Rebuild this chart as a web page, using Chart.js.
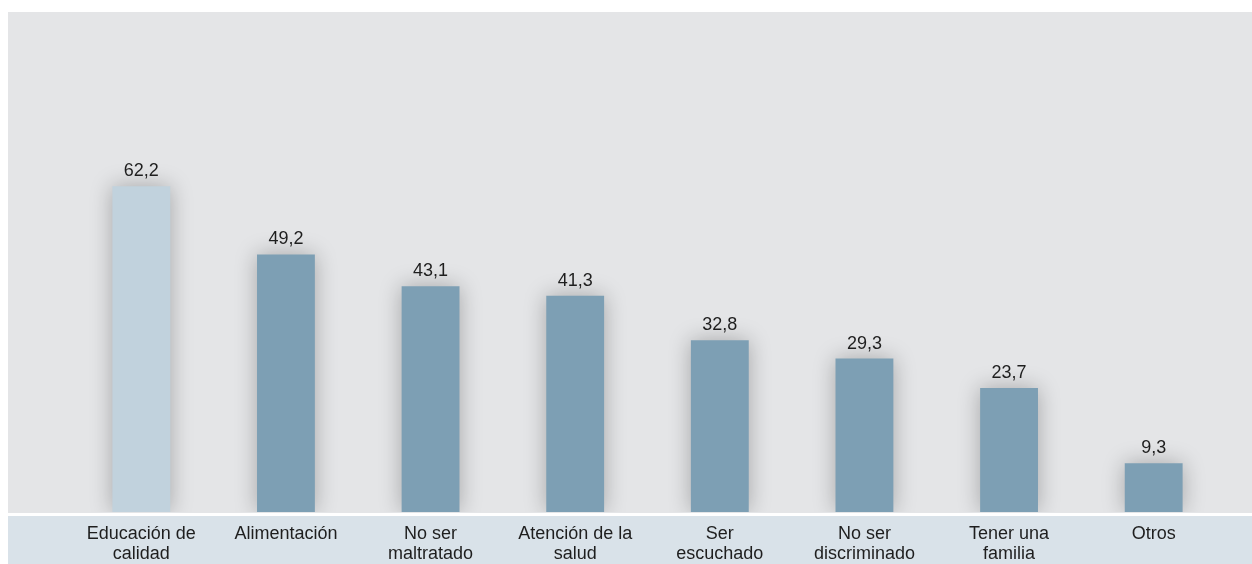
<!DOCTYPE html>
<html>
<head>
<meta charset="utf-8">
<script src="https://cdn.jsdelivr.net/npm/chart.js@4.4.1/dist/chart.umd.min.js"></script>
<style>
    html, body { margin: 0; padding: 0; background: #ffffff; }
    #wrap { width: 1252px; height: 564px; position: relative; }
</style>
</head>
<body>
<div id="wrap"><canvas id="myChart"></canvas></div>
<script>
// datos
var categorias = [
    ['Educación de', 'calidad'],
    'Alimentación',
    ['No ser', 'maltratado'],
    ['Atención de la', 'salud'],
    ['Ser', 'escuchado'],
    ['No ser', 'discriminado'],
    ['Tener una', 'familia'],
    'Otros'
];
var valores = [62.2, 49.2, 43.1, 41.3, 32.8, 29.3, 23.7, 9.3];
var coloresBarra = ['#c1d2dd', '#7d9fb4', '#7d9fb4', '#7d9fb4', '#7d9fb4', '#7d9fb4', '#7d9fb4', '#7d9fb4'];

// fondo gris + banda azul de las etiquetas
var fondo = {
    id: 'fondo',
    beforeDraw: function (chart) {
        const ctx = chart.ctx;
        ctx.save();
        ctx.fillStyle = '#ffffff';
        ctx.fillRect(0, 0, chart.width, chart.height);
        ctx.fillStyle = '#e4e5e7';
        ctx.fillRect(8, 12, chart.width - 8, 501);
        ctx.fillStyle = '#d9e2e9';
        ctx.fillRect(8, 516, chart.width - 8, chart.height - 516);
        ctx.restore();
    }
};

// sombra suave de las barras
var sombra = {
    id: 'sombra',
    beforeDatasetsDraw: function (chart) {
        const ctx = chart.ctx;
        ctx.save();
        ctx.shadowColor = 'rgba(0,0,0,0.28)';
        ctx.shadowBlur = 22;
        ctx.shadowOffsetX = 0;
        ctx.shadowOffsetY = 0;
    },
    afterDatasetsDraw: function (chart) {
        chart.ctx.restore();
    }
};

// valores encima de cada barra
var etiquetas = {
    id: 'etiquetas',
    afterDatasetsDraw: function (chart) {
        const ctx = chart.ctx;
        const meta = chart.getDatasetMeta(0);
        ctx.save();
        ctx.font = '18px "Liberation Sans", Arial, sans-serif';
        ctx.fillStyle = '#1e1e1e';
        ctx.textAlign = 'center';
        ctx.textBaseline = 'alphabetic';
        meta.data.forEach(function (bar, i) {
            ctx.fillText(valores[i].toFixed(1).replace('.', ','), bar.x, bar.y - 10);
        });
        ctx.restore();
    }
};

const config = {
    type: 'bar',
    data: {
        labels: categorias,
        datasets: [{
            data: valores,
            backgroundColor: coloresBarra,
            borderWidth: 0,
            categoryPercentage: 1,
            barPercentage: 0.4
        }]
    },
    options: {
        responsive: true,
        maintainAspectRatio: false,
        animation: false,
        layout: {
            padding: { top: 12, left: 69, right: 26, bottom: 0 }
        },
        scales: {
            x: {
                grid: { display: false, drawTicks: false },
                border: { display: false },
                afterFit: function (scale) {
                    scale.height = 52;
                },
                ticks: {
                    autoSkip: false,
                    maxRotation: 0,
                    padding: 12,
                    color: '#1e1e1e',
                    font: { family: '"Liberation Sans", Arial, sans-serif', size: 18, lineHeight: 1.1 }
                }
            },
            y: {
                display: false,
                min: 0,
                max: 95.5
            }
        },
        plugins: {
            legend: { display: false },
            tooltip: { enabled: false }
        }
    },
    plugins: [fondo, sombra, etiquetas]
};

const myChart = new Chart(document.getElementById('myChart'), config);
</script>
</body>
</html>
